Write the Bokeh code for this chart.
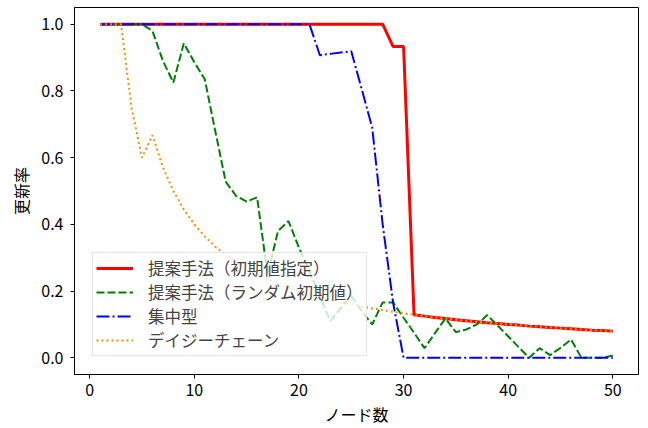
from bokeh.plotting import figure
from bokeh.models import FixedTicker, PrintfTickFormatter, Range1d, Legend, LegendItem
from bokeh.embed import file_html
from bokeh.resources import INLINE

FONT = "Noto Sans CJK JP"

nodes = list(range(1, 51))

proposed_fixed = [
    1.0, 1.0, 1.0, 1.0, 1.0, 1.0, 1.0, 1.0, 1.0, 1.0,
    1.0, 1.0, 1.0, 1.0, 1.0, 1.0, 1.0, 1.0, 1.0, 1.0,
    1.0, 1.0, 1.0, 1.0, 1.0, 1.0, 1.0, 1.0, 0.933, 0.933,
    0.129, 0.125, 0.121, 0.118, 0.114, 0.111, 0.108, 0.105, 0.103, 0.100,
    0.098, 0.095, 0.093, 0.091, 0.089, 0.087, 0.085, 0.083, 0.082, 0.080,
]

proposed_random = [
    1.0, 1.0, 1.0, 1.0, 1.0, 0.98, 0.89, 0.825, 0.943, 0.886,
    0.835, 0.68, 0.528, 0.485, 0.468, 0.481, 0.25, 0.38, 0.41, 0.33,
    0.26, 0.185, 0.11, 0.15, 0.186, 0.14, 0.10, 0.166, 0.166, 0.12,
    0.075, 0.029, 0.074, 0.118, 0.077, 0.085, 0.10, 0.128, 0.096, 0.064,
    0.032, 0.0, 0.029, 0.008, 0.03, 0.055, 0.0, 0.0, 0.0, 0.007,
]

centralized = [
    1.0, 1.0, 1.0, 1.0, 1.0, 1.0, 1.0, 1.0, 1.0, 1.0,
    1.0, 1.0, 1.0, 1.0, 1.0, 1.0, 1.0, 1.0, 1.0, 1.0,
    1.0, 0.907, 0.911, 0.915, 0.919, 0.805, 0.69, 0.40, 0.165, 0.0,
    0.0, 0.0, 0.0, 0.0, 0.0, 0.0, 0.0, 0.0, 0.0, 0.0,
    0.0, 0.0, 0.0, 0.0, 0.0, 0.0, 0.0, 0.0, 0.0, 0.0,
]

daisy_chain = [
    1.0, 1.0, 1.0, 0.75, 0.6, 0.667, 0.571, 0.5, 0.444, 0.4,
    0.364, 0.333, 0.308, 0.286, 0.267, 0.25, 0.235, 0.222, 0.211, 0.2,
    0.19, 0.182, 0.174, 0.167, 0.16, 0.154, 0.148, 0.143, 0.138, 0.133,
    0.129, 0.125, 0.121, 0.118, 0.114, 0.111, 0.108, 0.105, 0.103, 0.100,
    0.098, 0.095, 0.093, 0.091, 0.089, 0.087, 0.085, 0.083, 0.082, 0.080,
]

labels = ["提案手法（初期値指定）", "提案手法（ランダム初期値）", "集中型", "デイジーチェーン"]
x_ticks = [0, 10, 20, 30, 40, 50]
y_ticks = [0.0, 0.2, 0.4, 0.6, 0.8, 1.0]

p = figure(width=648, height=428, output_backend="svg", toolbar_location=None,
           x_range=Range1d(-1.45, 52.45), y_range=Range1d(-0.05, 1.05),
           min_border_left=74, min_border_right=10, min_border_top=7,
           min_border_bottom=52)
p.xgrid.visible = False
p.ygrid.visible = False
p.outline_line_color = "black"
p.outline_line_alpha = 1.0
p.outline_line_width = 1
p.background_fill_color = "white"
p.border_fill_color = "white"

p.xaxis.ticker = FixedTicker(ticks=x_ticks)
p.yaxis.ticker = FixedTicker(ticks=y_ticks)
p.yaxis.formatter = PrintfTickFormatter(format="%.1f")
p.xaxis.axis_label = "ノード数"
p.yaxis.axis_label = "更新率"
for ax in (p.xaxis, p.yaxis):
    ax.minor_tick_line_color = None
    ax.major_tick_in = 0
    ax.major_tick_out = 4
    ax.major_tick_line_color = "black"
    ax.axis_line_color = "black"
    ax.major_label_text_font = FONT
    ax.major_label_text_font_size = "16px"
    ax.major_label_text_color = "black"
    ax.axis_label_text_font = FONT
    ax.axis_label_text_font_size = "16px"
    ax.axis_label_text_font_style = "normal"
    ax.axis_label_text_color = "black"
p.xaxis.major_label_standoff = 5
p.yaxis.major_label_standoff = 7
p.xaxis.axis_label_standoff = 3
p.yaxis.axis_label_standoff = 5

r1 = p.line(nodes, proposed_fixed, line_color="red", line_width=3)
r2 = p.line(nodes, proposed_random, line_color="green", line_width=2, line_dash="8 3")
r3 = p.line(nodes, centralized, line_color="blue", line_width=2, line_dash="13 3 2 3")
r4 = p.line(nodes, daisy_chain, line_color="darkorange", line_width=2, line_dash="2 3")

legend = Legend(items=[LegendItem(label=labels[0], renderers=[r1]),
                       LegendItem(label=labels[1], renderers=[r2]),
                       LegendItem(label=labels[2], renderers=[r3]),
                       LegendItem(label=labels[3], renderers=[r4])],
                location=(18, 18), margin=0, padding=3, spacing=0,
                label_height=20, glyph_height=20, glyph_width=37, label_standoff=15,
                label_text_font=FONT, label_text_font_size="16.5px",
                border_line_color="#cccccc", border_line_width=1,
                background_fill_color="white", background_fill_alpha=0.8)
p.add_layout(legend)

open("out.html", "w").write(file_html(p, INLINE))
